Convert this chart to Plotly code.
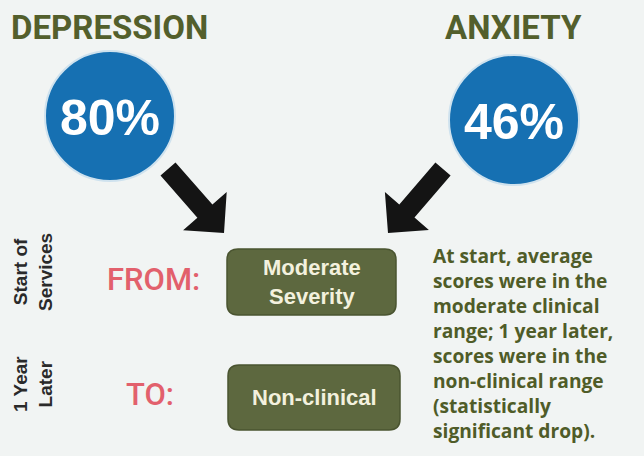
import plotly.graph_objects as go


CONDITIONS = ["DEPRESSION", "ANXIETY"]
PERCENTS = [80, 46]

STAGES = ["Start of<br>Services", "1 Year<br>Later"]
STAGE_WORDS = ["FROM:", "TO:"]
SEVERITY = ["Moderate<br>Severity", "Non-clinical"]

NOTE_LINES = [
    "At start, average",
    "scores were in the",
    "moderate clinical",
    "range; 1 year later,",
    "scores were in the",
    "non-clinical range",
    "(statistically",
    "significant drop).",
]

W, H = 644, 456
BG = "#f1f4f3"
OLIVE = "#535f2c"
BOX = "#5d683f"
BLUE = "#1670b2"
PINK = "#e2606c"
SANS = "Liberation Sans, Arial, sans-serif"
HEAD = "Roboto, Liberation Sans, sans-serif"


def arrow_path(x0, y0, x1, y1, shaft=20, head_w=58, head_len=29):
    """
    Filled arrow polygon from (x0, y0) to tip (x1, y1).
    """
    dx, dy = x1 - x0, y1 - y0
    length = (dx ** 2 + dy ** 2) ** 0.5
    ux, uy = dx / length, dy / length
    px, py = -uy, ux
    bx, by = x1 - ux * head_len, y1 - uy * head_len
    pts = [
        (x0 + px * shaft / 2, y0 + py * shaft / 2),
        (bx + px * shaft / 2, by + py * shaft / 2),
        (bx + px * head_w / 2, by + py * head_w / 2),
        (x1, y1),
        (bx - px * head_w / 2, by - py * head_w / 2),
        (bx - px * shaft / 2, by - py * shaft / 2),
        (x0 - px * shaft / 2, y0 - py * shaft / 2),
    ]
    return "M " + " L ".join(f"{x:.1f},{y:.1f}" for x, y in pts) + " Z"


def rounded_rect(x0, y0, x1, y1, r=10):
    return (
        f"M {x0 + r},{y0} L {x1 - r},{y0} Q {x1},{y0} {x1},{y0 + r} "
        f"L {x1},{y1 - r} Q {x1},{y1} {x1 - r},{y1} "
        f"L {x0 + r},{y1} Q {x0},{y1} {x0},{y1 - r} "
        f"L {x0},{y0 + r} Q {x0},{y0} {x0 + r},{y0} Z"
    )


fig = go.Figure()

shapes = []
annotations = []

# headers + circles
circle_x = [110, 514]
circle_y = [116, 120]
header_x = [109, 513]
radius = 65

for name, pct, cx, cy, hx in zip(CONDITIONS, PERCENTS, circle_x, circle_y, header_x):

    annotations.append(dict(
        x=hx, y=27, text=f"<b>{name}</b>",
        font=dict(family=HEAD, size=33, color=OLIVE),
    ))

    shapes.append(dict(
        type="circle", x0=cx - radius, x1=cx + radius,
        y0=cy - radius, y1=cy + radius,
        fillcolor=BLUE, line=dict(color="#cfe2ee", width=2),
    ))

    annotations.append(dict(
        x=cx, y=cy + 2, text=f"<b>{pct}%</b>",
        font=dict(family=SANS, size=50, color="white"),
    ))

# arrows
shapes.append(dict(type="path", path=arrow_path(168, 169, 224, 233),
                   fillcolor="#141414", line=dict(width=0)))
shapes.append(dict(type="path", path=arrow_path(443, 169, 388, 233),
                   fillcolor="#141414", line=dict(width=0)))

# rows
stage_y = [272, 384]
word_x = [153, 150]
box_x = [(227, 396), (228, 400)]
box_y = [(249, 315), (365, 430)]

for stage, word, sev, sy, wx, (bx0, bx1), (by0, by1) in zip(
    STAGES, STAGE_WORDS, SEVERITY, stage_y, word_x, box_x, box_y
):
    mid = (by0 + by1) / 2

    annotations.append(dict(
        x=33, y=sy, text=f"<b>{stage}</b>", textangle=-90,
        font=dict(family=SANS, size=19, color="#2a2a2a"),
    ))

    annotations.append(dict(
        x=wx, y=mid - 3, text=word,
        font=dict(family=HEAD, size=31, color=PINK, weight=500),
    ))

    shapes.append(dict(
        type="path", path=rounded_rect(bx0, by0, bx1, by1, 11),
        fillcolor=BOX, line=dict(color="#4a5430", width=1.5),
    ))

    annotations.append(dict(
        x=(bx0 + bx1) / 2, y=mid, text=f"<b>{sev}</b>",
        font=dict(family=SANS, size=22, color="#f3f1de"),
    ))

# note text
annotations.append(dict(
    x=431, y=240, xanchor="left", yanchor="top", align="left",
    text="<br>".join(f"<b>{line}</b>" for line in NOTE_LINES),
    font=dict(family="Open Sans, Noto Sans, sans-serif", size=19.2, color="#4f5c28"),
))

for a in annotations:
    a.setdefault("showarrow", False)
    a.setdefault("xref", "x")
    a.setdefault("yref", "y")
    a.setdefault("xanchor", "center")
    a.setdefault("yanchor", "middle")

for s in shapes:
    s.setdefault("xref", "x")
    s.setdefault("yref", "y")
    s.setdefault("layer", "below")

fig.update_layout(
    width=W,
    height=H,
    margin=dict(l=0, r=0, t=0, b=0),
    paper_bgcolor=BG,
    plot_bgcolor=BG,
    showlegend=False,
    xaxis=dict(range=[0, W], visible=False, fixedrange=True),
    yaxis=dict(range=[H, 0], visible=False, fixedrange=True),
    shapes=shapes,
    annotations=annotations,
)

fig.write_html(
    "out.html",
    config={"displayModeBar": False},
    post_script="document.body.style.margin='0';document.body.style.overflow='hidden';",
)
